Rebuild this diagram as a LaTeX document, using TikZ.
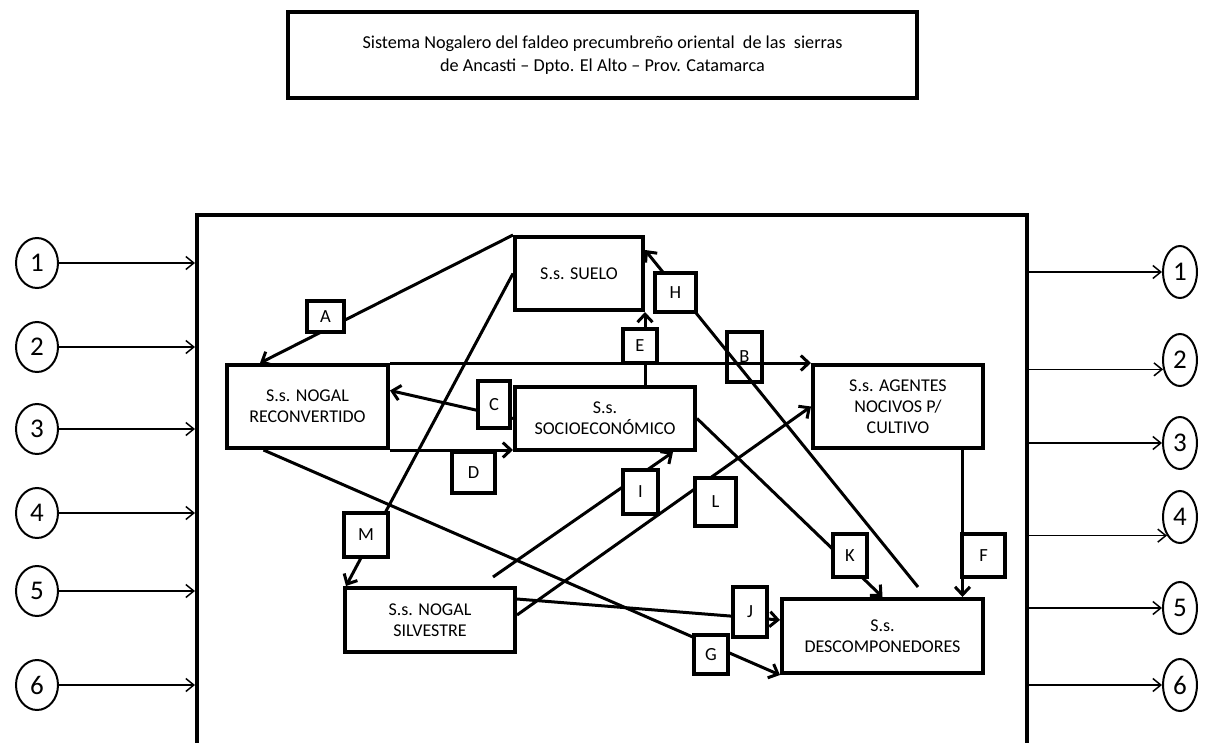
\documentclass[tikz,border=0pt]{standalone}
\usepackage{fontspec}
\setmainfont{Carlito}
\usetikzlibrary{arrows.meta,shapes.geometric,calc}
\begin{document}
\begin{tikzpicture}[x=1pt,y=-1pt,
  sbox/.style={draw, line width=4pt, fill=white, align=center, inner sep=0pt,
    font=\fontsize{18}{21}\selectfont},
  lbl/.style={draw, line width=4.5pt, fill=white, inner sep=0pt,
    font=\fontsize{18.5}{21}\selectfont},
  conn/.style={line width=3pt, -{Straight Barb[length=8pt,width=15pt]}},
  ext/.style={line width=1.5pt, -{Straight Barb[length=8pt,width=13pt]}},
  lcirc/.style={draw, ellipse, line width=2pt, minimum width=42pt, minimum height=50pt,
    inner sep=0pt, font=\fontsize{27}{30}\selectfont},
  rcirc/.style={draw, ellipse, line width=2pt, minimum width=34pt, minimum height=52pt,
    inner sep=0pt, font=\fontsize{27}{30}\selectfont}]
\useasboundingbox (0,0) rectangle (1208,742);

% title
\node[draw, line width=4.5pt, minimum width=629pt, minimum height=86pt, align=center,
  inner sep=0pt, font=\fontsize{18.2}{23}\selectfont] (title) at (602.5,55)
  {Sistema Nogalero del faldeo precumbreño oriental\ \ de las\ \ sierras\\
   de Ancasti -- Dpto. El Alto -- Prov. Catamarca};

% frame
\node[draw, line width=4pt, minimum width=830pt, minimum height=585pt, inner sep=0pt]
  (frame) at (612,507.5) {};

% subsystems
\node[sbox, minimum width=128pt, minimum height=73pt] (suelo) at (579,273.5) {S.s. SUELO};
\node[sbox, minimum width=161pt, minimum height=83pt] (nogal) at (307.5,406.5) {S.s. NOGAL\\RECONVERTIDO};
\node[sbox, minimum width=180pt, minimum height=63pt] (socio) at (605,418.5) {S.s.\\SOCIOECONÓMICO};
\node[sbox, minimum width=170pt, minimum height=83pt] (agentes) at (898,406.5) {S.s. AGENTES\\NOCIVOS P/\\CULTIVO};
\node[sbox, minimum width=170pt, minimum height=64pt] (silv) at (430,620) {S.s. NOGAL\\SILVESTRE};
\node[sbox, minimum width=201pt, minimum height=74pt] (desc) at (882.5,636) {S.s.\\DESCOMPONEDORES};

\coordinate (Istart) at (493,577);
\coordinate (Hstart) at (918,587);

% connectors
\draw[conn] (suelo.north west) -- ([xshift=35pt]nogal.north west);
\draw[conn] (suelo.west) -- ([xshift=3pt]silv.north west);
\draw[conn] (nogal.north east) -- (agentes.north west);
\draw[conn] (socio.north -| suelo.south east) -- (suelo.south east);
\draw[conn] (socio.west) -- ([yshift=16pt]nogal.east);
\draw[conn] (nogal.south east) -- (nogal.south east -| socio.west);
\draw[conn] ([xshift=-44pt]nogal.south) -- (desc.south west);
\draw[conn] ([yshift=21pt]silv.east) -- ([yshift=16pt]desc.west);
\draw[conn] ([yshift=5pt]silv.east) -- (agentes.west);
\draw[conn] (Istart) -- ([xshift=68pt]socio.south);
\draw[conn] (socio.east) -- (desc.north);
\draw[conn] (Hstart) -- ([yshift=23.5pt]suelo.east);
\draw[conn] ([xshift=64.5pt]agentes.south) -- ([xshift=64.5pt]agentes.south |- desc.north);

% labels
\node[lbl, minimum width=37pt, minimum height=31pt] (lA) at (325.5,316.5) {A};
\node[lbl, minimum width=32pt, minimum height=47pt] (lC) at (494,404.5) {C};
\node[lbl, minimum width=34pt, minimum height=34pt] (lE) at (640,346) {E};
\node[lbl, minimum width=41pt, minimum height=39pt] (lH) at (675.5,292.5) {H};
\node[lbl, minimum width=35pt, minimum height=50pt, fill=none] (lB) at (744.5,357) {B};
\node[lbl, minimum width=43pt, minimum height=41pt] (lD) at (473.5,472.5) {D};
\node[lbl, minimum width=35pt, minimum height=44pt] (lI) at (640.5,492) {I};
\node[lbl, minimum width=44pt, minimum height=44pt] (lM) at (366,535) {M};
\node[lbl, minimum width=41pt, minimum height=48pt] (lL) at (715.5,502) {L};
\node[lbl, minimum width=34pt, minimum height=43pt] (lK) at (850,555.5) {K};
\node[lbl, minimum width=43pt, minimum height=43pt] (lF) at (983.5,555.5) {F};
\node[lbl, minimum width=34pt, minimum height=50pt] (lJ) at (750,612) {J};
\node[lbl, minimum width=34pt, minimum height=39pt] (lG) at (711,654.5) {G};

% left inputs
\foreach \i/\y in {1/263,2/347,3/429,4/513,5/591,6/685}{
  \node[lcirc] (l\i) at (37,\y) {\i};
  \draw[ext] (l\i.east) -- (l\i.east -| frame.west);
}
% right outputs
\node[rcirc] (r1) at (1180,272) {1};
\node[rcirc] (r2) at (1180,360) {2};
\node[rcirc] (r3) at (1180,443) {3};
\node[rcirc] (r4) at (1180,517) {4};
\node[rcirc] (r5) at (1180,608) {5};
\node[rcirc] (r6) at (1180,685) {6};
\draw[ext] (frame.east |- r1.west) -- (r1.west);
\draw[ext] (frame.east |- r2.209) -- (r2.209);
\draw[ext] (frame.east |- r3.west) -- (r3.west);
\draw[ext] (frame.east |- r4.235) -- (r4.235);
\draw[ext] (frame.east |- r5.west) -- (r5.west);
\draw[ext] (frame.east |- r6.west) -- (r6.west);
\end{tikzpicture}
\end{document}
